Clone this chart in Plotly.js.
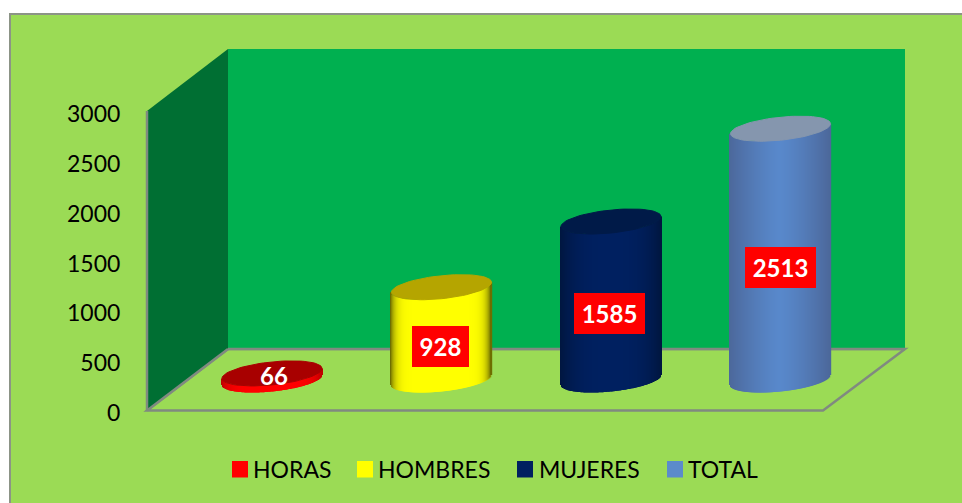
<!DOCTYPE html>
<html>
<head>
<meta charset="utf-8">
<script src="https://cdn.plot.ly/plotly-3.0.1.min.js"></script>
<style>html,body{margin:0;padding:0;background:#fff;overflow:hidden}</style>
</head>
<body>
<div id="chart" style="width:962px;height:503px"></div>
<script>
const categories = ["HORAS", "HOMBRES", "MUJERES", "TOTAL"];
const values = [66, 928, 1585, 2513];
const bodyColors = [[255,0,0], [255,255,0], [0,32,96], [88,136,203]];
const edgeColors = [[190,0,0], [110,110,0], [0,22,64], [76,104,155]];
const capColors = ["#A80000", "#B5A500", "#001A48", "#8596AE"];
const edgePowers = [6, 10, 3, 1.3];
const legendColors = ["#FF0000", "#FFFF00", "#002060", "#5B8BCB"];
const legendSwatchX = [232, 357, 517, 667];
const legendTextX = [291.5, 434, 589, 722.5];
const labelW = [40, 57, 71, 71];
const labelShiftX = [2, -1, -2, 0];
const labelShiftY = [1, -13, -13, -13];

const W = 962, H = 503;
const PXX = 169.5, X0 = 272;          // horizontal pixels per category, centre of first
const UNITS_PER_PX = 10;              // value units per vertical pixel on the 3-D floor axis
const A = 50, B = 11.5, TILT = 0.1;   // cylinder end ellipse, in pixels

const px = (x) => x / W;
const py = (y) => 1 - y / H;
const pathPx = (pts) => 'M' + pts.map(p => px(p[0]) + ',' + py(p[1])).join('L') + 'Z';
const rgb = (c) => 'rgb(' + c.map(Math.round).join(',') + ')';

const traces = [];
// keeps the visible left axis alive
traces.push({type:'scatter', mode:'none', x:[0], y:[0], xaxis:'x', yaxis:'y', showlegend:false, hoverinfo:'skip'});

categories.forEach((name, i) => {
  const v = values[i];
  traces.push({type:'bar', name, x:[i], y:[v], width:[0.3], base:[0], xaxis:'x', yaxis:'y2',
    marker:{color:rgb(bodyColors[i])}, cliponaxis:false,
    hovertemplate:name + ': %{y}<extra></extra>'});
  const xs = [], bases = [], ys = [], cols = [];
  for (let dx = -A; dx <= A; dx++) {
    const t = Math.abs(dx) / A;
    const arc = B * Math.sqrt(Math.max(0, 1 - t * t));
    xs.push(i + dx / PXX);
    bases.push((TILT * dx - arc) * UNITS_PER_PX);
    ys.push(v);
    const m = Math.pow(t, edgePowers[i]);
    cols.push(rgb(bodyColors[i].map((c, k) => c + (edgeColors[i][k] - c) * m)));
  }
  traces.push({type:'bar', x:xs, y:ys, base:bases, width:1.4 / PXX, xaxis:'x', yaxis:'y2',
    marker:{color:cols, line:{width:0}}, cliponaxis:false, showlegend:false, hoverinfo:'skip'});
  const cx = [], cy = [];
  for (let d = 0; d <= 360; d += 5) {
    const r = d * Math.PI / 180;
    const dx = A * Math.cos(r);
    cx.push(i + dx / PXX);
    cy.push(v + (TILT * dx + B * Math.sin(r)) * UNITS_PER_PX);
  }
  traces.push({type:'scatter', mode:'lines', x:cx, y:cy, xaxis:'x', yaxis:'y2', fill:'toself',
    fillcolor:capColors[i], line:{color:capColors[i], width:1}, cliponaxis:false,
    showlegend:false, hoverinfo:'skip'});
});

const EDGE = '#808A80';
const shapes = [
  {type:'rect', xref:'paper', yref:'paper', x0:px(10), y0:py(14), x1:px(990), y1:py(530),
    fillcolor:'#9BDB55', line:{color:'#8C9486', width:2}, layer:'below'},
  {type:'path', xref:'paper', yref:'paper', path:pathPx([[147,410.5],[823,410.5],[905,349],[228,349]]),
    fillcolor:'#9BDB55', line:{color:EDGE, width:2.5}, layer:'below'},
  {type:'path', xref:'paper', yref:'paper', path:pathPx([[228,49],[905,49],[905,348],[228,348]]),
    fillcolor:'#00B050', line:{width:0}, layer:'below'},
  {type:'path', xref:'paper', yref:'paper', path:pathPx([[147,111],[228,49],[228,349],[147,410]]),
    fillcolor:'#006F33', line:{width:0}, layer:'below'},
  {type:'line', xref:'paper', yref:'paper', x0:px(147), y0:py(111), x1:px(147), y1:py(411),
    line:{color:EDGE, width:2.5}, layer:'below'},
  {type:'line', xref:'paper', yref:'paper', x0:px(147), y0:py(410.5), x1:px(228), y1:py(349),
    line:{color:EDGE, width:2.5}, layer:'below'},
  {type:'line', xref:'paper', yref:'paper', x0:px(228), y0:py(349), x1:px(905), y1:py(349),
    line:{color:EDGE, width:2.5}, layer:'below'}
].concat(categories.map((c, i) => ({
  type:'rect', xref:'paper', yref:'paper', x0:px(legendSwatchX[i]), x1:px(legendSwatchX[i] + 16),
  y0:py(461), y1:py(477.5), fillcolor:legendColors[i], line:{width:0}, layer:'above'
})));

const annotations = categories.map((c, i) => ({
  x:i, y:values[i] / 2, xref:'x', yref:'y2', text:'<b>' + values[i] + '</b>', showarrow:false,
  xanchor:'center', yanchor:'middle', align:'center', valign:'middle',
  width:labelW[i], height:41, borderpad:0, borderwidth:0,
  bgcolor:i === 0 ? 'rgba(0,0,0,0)' : '#FF0000',
  xshift:labelShiftX[i], yshift:labelShiftY[i],
  font:{family:'Lato, Carlito, sans-serif', size:24, color:'#FFFFFF'}
})).concat(categories.map((c, i) => ({
  x:px(legendTextX[i]), y:py(469), xref:'paper', yref:'paper', text:c, showarrow:false,
  xanchor:'center', yanchor:'middle', borderpad:0, borderwidth:0,
  font:{family:'Lato, Carlito, sans-serif', size:23, color:'#000000'}
})));

const layout = {
  width:W, height:H, autosize:false,
  margin:{l:0, r:0, t:0, b:0, pad:0},
  paper_bgcolor:'#FFFFFF', plot_bgcolor:'rgba(0,0,0,0)',
  barmode:'overlay', showlegend:false,
  font:{family:'Lato, Carlito, sans-serif', color:'#000000'},
  xaxis:{range:[-X0 / PXX, (W - X0) / PXX], domain:[0, 1], visible:false, fixedrange:true},
  yaxis:{range:[0, 3000], domain:[py(413), py(114)], anchor:'free', position:px(147), side:'left',
    tickvals:[0,500,1000,1500,2000,2500,3000], ticks:'outside', ticklen:22, tickcolor:'rgba(0,0,0,0)',
    showgrid:false, zeroline:false, showline:false, tickfont:{size:23, color:'#000000'}, fixedrange:true},
  yaxis2:{range:[-500, 3000], domain:[py(430), py(80)], anchor:'x', visible:false, fixedrange:true},
  shapes, annotations
};

Plotly.newPlot('chart', traces, layout, {displayModeBar:false});
</script>
</body>
</html>
